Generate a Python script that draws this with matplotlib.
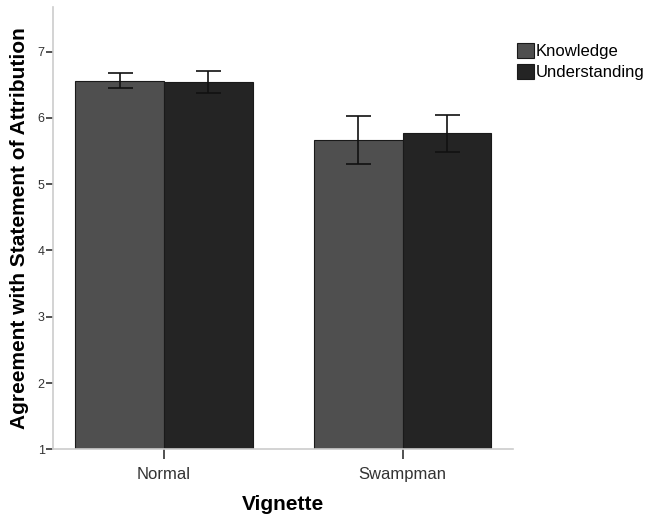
import numpy as np
import matplotlib.pyplot as plt
from matplotlib.patches import Patch

plt.rcParams['font.family'] = ['Liberation Sans', 'DejaVu Sans']

vignettes = ["Normal", "Swampman"]
series = ["Knowledge", "Understanding"]
means = {"Knowledge": [6.56, 5.67], "Understanding": [6.54, 5.77]}
errors = {"Knowledge": [0.11, 0.36], "Understanding": [0.16, 0.28]}
colors = {"Knowledge": "#4f4f4f", "Understanding": "#242424"}

fig = plt.figure(figsize=(6.51, 5.15), dpi=100)
ax = fig.add_axes([0.0814, 0.1276, 0.7066, 0.8584])

x = np.arange(len(vignettes))
width = 0.371
for i, name in enumerate(series):
    offset = (i - 0.5) * width
    ax.bar(x + offset, np.array(means[name]) - 1, width, bottom=1,
           color=colors[name], edgecolor="#1a1a1a", linewidth=0.8)
    ax.errorbar(x + offset, means[name], yerr=errors[name], fmt="none",
                ecolor="#111111", elinewidth=1.2, capsize=9, capthick=1.2)

ax.set_xlim(-0.465, 1.462)
ax.set_ylim(1, 7.67)
ax.set_yticks(range(1, 8))
ax.set_xticks(x)
ax.set_xticklabels(vignettes, fontsize=12, color="#333333")
ax.tick_params(axis="y", labelsize=9, length=5, width=1.2, color="#333333",
               labelcolor="#333333", pad=1)
ax.tick_params(axis="x", length=7, width=1.2, color="#333333", pad=6)

for side in ["top", "right"]:
    ax.spines[side].set_visible(False)
for side in ["left", "bottom"]:
    ax.spines[side].set_color("#cccccc")
    ax.spines[side].set_linewidth(1.2)

ax.set_ylabel("Agreement with Statement of Attribution", fontsize=15,
              fontweight="bold", labelpad=6)
ax.set_xlabel("Vignette", fontsize=15, fontweight="bold", labelpad=9)

handles = [Patch(facecolor=colors[n], edgecolor="#1a1a1a", linewidth=0.8)
           for n in series]
fig.legend(handles, series, loc="upper left", bbox_to_anchor=(0.784, 0.93),
           frameon=False, fontsize=12, handlelength=1.0, handleheight=1.0,
           handletextpad=0.1, labelspacing=0.3, borderaxespad=0)

fig.savefig("out.png", dpi=100)
